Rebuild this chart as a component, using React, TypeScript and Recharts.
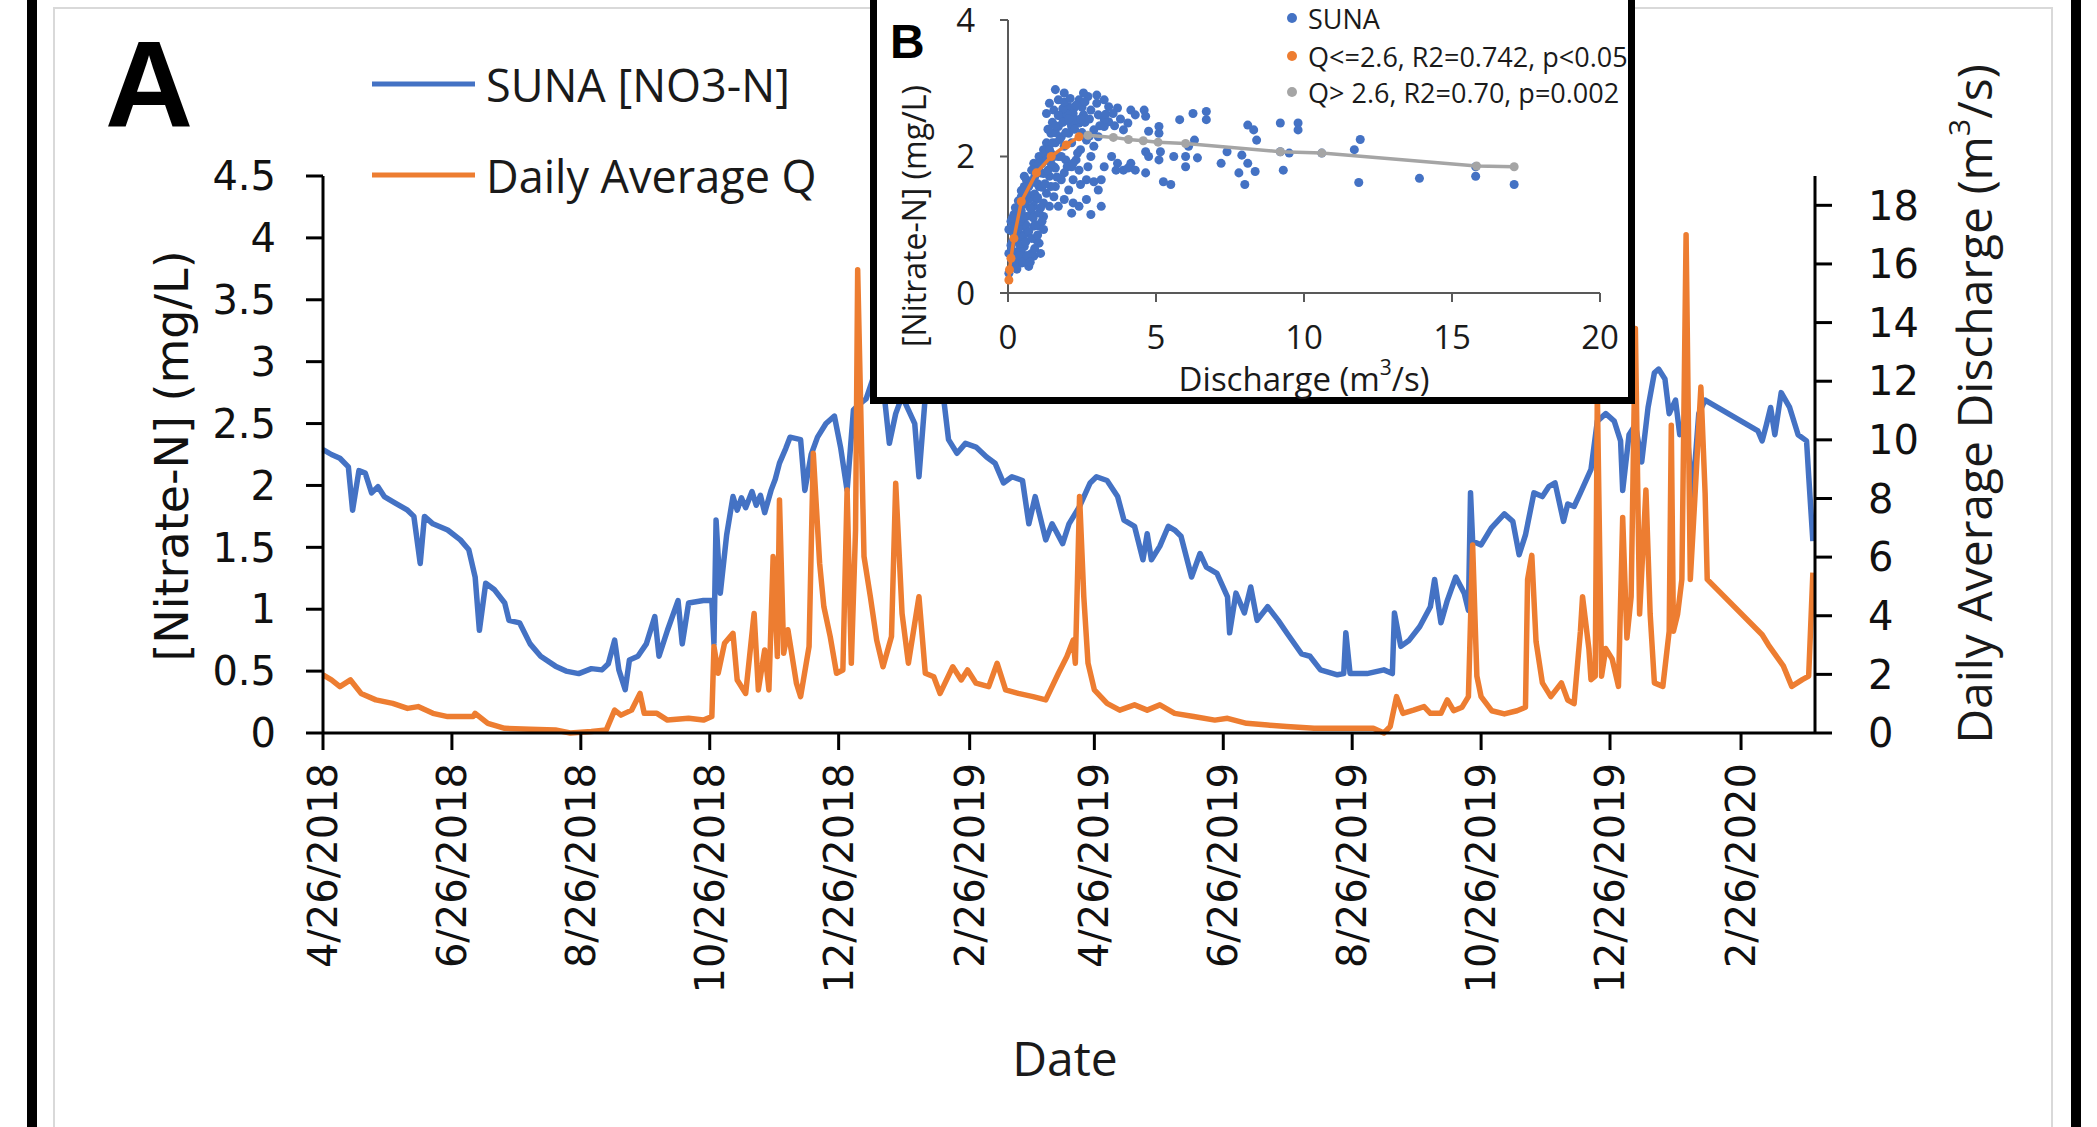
import { Line, LineChart, Scatter, ScatterChart, XAxis, YAxis } from "recharts";

// main panel A: [day since 4/26/2018, value]
const nitrate: [number, number][] = [
  [0, 2.29], [4, 2.25], [8, 2.22], [12, 2.15], [14, 1.8], [17, 2.12], [20, 2.1], [23, 1.94], [26, 1.99], [29, 1.91],
  [34, 1.86], [40, 1.8], [43, 1.75], [46, 1.37], [48, 1.75], [52, 1.69], [59, 1.64], [65, 1.56], [69, 1.48], [72, 1.26],
  [74, 0.83], [77, 1.21], [81, 1.16], [86, 1.05], [88, 0.91], [93, 0.89], [98, 0.72], [103, 0.62], [110, 0.54], [115, 0.5],
  [121, 0.48], [127, 0.52], [132, 0.51], [135, 0.56], [138, 0.75], [140, 0.51], [143, 0.35], [145, 0.59], [149, 0.62], [153, 0.72],
  [157, 0.94], [159, 0.62], [163, 0.83], [168, 1.07], [170, 0.72], [173, 1.05], [180, 1.07], [184, 1.07], [185, 0.72], [186, 1.72],
  [188, 1.13], [191, 1.6], [194, 1.91], [196, 1.8], [198, 1.9], [200, 1.82], [203, 1.95], [205, 1.84], [207, 1.92], [209, 1.78],
  [212, 1.96], [214, 2.05], [216, 2.18], [219, 2.3], [221, 2.39], [226, 2.37], [228, 1.96], [231, 2.25], [234, 2.39], [238, 2.5],
  [242, 2.56], [245, 2.3], [248, 1.96], [251, 2.61], [254, 2.66], [257, 2.7], [260, 2.85], [262, 2.9], [265, 2.82], [268, 2.34],
  [271, 2.58], [274, 2.72], [277, 2.61], [280, 2.5], [282, 2.07], [285, 2.72], [288, 2.7], [290, 2.78], [293, 2.8], [296, 2.37],
  [300, 2.26], [304, 2.34], [309, 2.31], [314, 2.23], [318, 2.18], [322, 2.02], [326, 2.07], [331, 2.04], [334, 1.69], [337, 1.91],
  [342, 1.56], [345, 1.69], [350, 1.53], [353, 1.69], [358, 1.83], [363, 2.02], [366, 2.07], [371, 2.04], [376, 1.91], [379, 1.72],
  [384, 1.67], [388, 1.4], [390, 1.61], [392, 1.4], [396, 1.51], [400, 1.67], [403, 1.64], [406, 1.59], [411, 1.26], [415, 1.45],
  [418, 1.34], [423, 1.29], [428, 1.1], [429, 0.81], [432, 1.13], [436, 0.97], [439, 1.18], [442, 0.91], [447, 1.02], [452, 0.91],
  [456, 0.81], [463, 0.64], [467, 0.62], [472, 0.51], [480, 0.47], [483, 0.48], [484, 0.81], [486, 0.48], [494, 0.48], [502, 0.51],
  [506, 0.48], [507, 0.97], [510, 0.7], [514, 0.75], [519, 0.86], [524, 1.02], [526, 1.24], [529, 0.89], [532, 1.07], [536, 1.26],
  [540, 1.13], [542, 0.99], [543, 1.94], [544, 1.55], [548, 1.52], [553, 1.66], [559, 1.77], [563, 1.71], [566, 1.44], [569, 1.6],
  [573, 1.94], [577, 1.91], [580, 1.99], [583, 2.02], [587, 1.71], [589, 1.85], [592, 1.83], [595, 1.94], [600, 2.13], [603, 2.52],
  [607, 2.58], [611, 2.52], [614, 2.36], [615, 1.96], [618, 2.41], [621, 2.49], [624, 2.19], [627, 2.63], [630, 2.91], [632, 2.94],
  [635, 2.86], [637, 2.58], [640, 2.69], [642, 2.41], [645, 2.52], [648, 1.91], [651, 2.58], [654, 2.69], [679, 2.44], [681, 2.36],
  [683, 2.49], [685, 2.63], [687, 2.41], [690, 2.75], [694, 2.63], [698, 2.41], [702, 2.36], [703, 2.08], [705, 1.55],
];

const dischargeQ: [number, number][] = [
  [0, 1.98], [4, 1.81], [8, 1.58], [13, 1.81], [18, 1.35], [25, 1.13], [33, 1.01], [40, 0.84], [45, 0.9], [52, 0.67],
  [59, 0.56], [71, 0.56], [72, 0.67], [78, 0.33], [86, 0.16], [98, 0.13], [110, 0.1], [117, 0], [127, 0.05], [134, 0.1],
  [138, 0.78], [141, 0.61], [146, 0.78], [150, 1.35], [152, 0.67], [158, 0.67], [163, 0.44], [173, 0.5], [180, 0.44], [184, 0.56],
  [185, 2.95], [187, 2.04], [190, 3.06], [194, 3.4], [196, 1.81], [200, 1.35], [204, 4.08], [206, 1.47], [209, 2.83], [211, 1.47],
  [213, 6.02], [215, 2.61], [216, 7.95], [218, 2.72], [220, 3.52], [224, 1.7], [226, 1.24], [230, 2.95], [232, 9.54], [235, 5.79],
  [237, 4.31], [240, 3.29], [243, 2.04], [246, 2.15], [248, 8.29], [250, 2.38], [252, 6.93], [253, 15.8], [256, 6.02], [259, 4.65],
  [262, 3.17], [265, 2.26], [269, 3.29], [271, 8.52], [274, 4.08], [277, 2.38], [282, 4.65], [285, 2.04], [289, 1.92], [292, 1.35],
  [298, 2.26], [302, 1.81], [305, 2.15], [309, 1.7], [315, 1.58], [319, 2.38], [323, 1.47], [329, 1.35], [336, 1.24], [342, 1.13],
  [348, 2.04], [352, 2.61], [355, 3.17], [356, 2.38], [358, 8.07], [360, 4.65], [362, 2.38], [365, 1.47], [371, 1.01], [377, 0.78],
  [384, 0.96], [390, 0.78], [396, 0.96], [403, 0.67], [412, 0.56], [422, 0.44], [428, 0.5], [437, 0.33], [447, 0.27], [456, 0.22],
  [469, 0.16], [484, 0.16], [497, 0.16], [502, 0], [505, 0.22], [508, 1.24], [511, 0.67], [516, 0.78], [521, 0.9], [524, 0.67],
  [529, 0.67], [532, 1.13], [535, 0.76], [539, 0.88], [542, 1.24], [544, 6.41], [546, 1.94], [548, 1.24], [553, 0.76], [559, 0.65],
  [565, 0.76], [569, 0.88], [570, 5.24], [572, 6.06], [574, 3.12], [577, 1.71], [581, 1.24], [586, 1.71], [589, 1.12], [592, 1.0],
  [595, 3.47], [596, 4.65], [599, 2.88], [600, 1.82], [602, 1.94], [603, 11.6], [605, 1.94], [607, 2.88], [610, 2.53], [613, 1.59],
  [615, 7.35], [617, 3.24], [619, 4.65], [621, 13.8], [623, 4.06], [626, 8.29], [628, 4.06], [630, 1.71], [634, 1.59], [637, 3.47],
  [638, 10.5], [639, 3.47], [641, 4.06], [643, 5.24], [645, 17.0], [647, 5.24], [649, 7.82], [652, 11.8], [654, 8.18], [655, 5.24],
  [681, 3.35], [684, 3.0], [691, 2.29], [695, 1.59], [700, 1.82], [703, 1.94], [705, 5.47],
];

const dateTickDays = [0, 61, 122, 183, 244, 306, 365, 426, 487, 548, 609, 671];
const dateTickLabels = [
  "4/26/2018", "6/26/2018", "8/26/2018", "10/26/2018", "12/26/2018", "2/26/2019",
  "4/26/2019", "6/26/2019", "8/26/2019", "10/26/2019", "12/26/2019", "2/26/2020",
];
const nitrateTicks = [0, 0.5, 1, 1.5, 2, 2.5, 3, 3.5, 4, 4.5];
const qTicks = [0, 2, 4, 6, 8, 10, 12, 14, 16, 18];

// inset panel B: [discharge, nitrate]
const sunaScatter: [number, number][] = [
  [17.1, 1.59], [15.8, 1.71], [15.8, 1.85], [13.9, 1.68], [11.85, 1.62], [11.9, 2.25], [11.7, 2.1], [10.6, 2.05], [9.8, 2.49], [9.8, 2.39],
  [9.2, 2.49], [9.3, 1.8], [9.5, 2.05], [9.2, 2.07], [8.1, 2.46], [8.3, 2.39], [8.4, 2.24], [8.0, 1.59], [8.1, 1.9], [7.9, 2.02],
  [7.8, 1.76], [8.35, 1.78], [7.4, 2.07], [7.2, 1.9], [6.7, 2.66], [6.7, 2.54], [6.25, 2.63], [5.8, 2.54], [6.3, 2.24], [6.1, 2.15],
  [6.0, 2.0], [6.4, 1.98], [6.0, 1.85], [5.6, 2.0], [5.5, 1.59], [5.25, 1.63], [5.1, 1.95], [5.15, 2.07], [4.65, 2.07], [4.65, 1.76],
  [4.75, 2.0], [5.1, 2.34], [5.1, 2.44], [4.75, 2.37], [4.6, 2.68], [4.65, 2.59], [4.15, 2.68], [4.3, 2.61], [4.05, 2.49], [3.9, 2.39],
  [3.7, 2.71], [3.55, 2.63], [3.4, 2.51], [3.25, 2.44], [3.05, 2.29], [3.7, 1.9], [4.15, 1.9], [3.9, 1.8], [4.05, 1.83], [4.3, 1.8],
  [3.65, 1.8], [3.5, 2.0], [3.25, 1.85], [3.15, 1.66], [3.15, 1.27], [2.8, 1.15], [3.05, 1.51], [2.9, 1.63], [2.9, 2.15], [2.8, 2.0],
  [2.7, 1.85], [2.65, 1.66], [3.0, 2.78], [2.7, 2.88], [2.55, 2.93], [2.4, 2.83], [3.0, 2.9], [3.25, 2.83], [3.4, 2.73], [2.2, 1.66],
  [2.4, 1.8], [2.2, 1.32], [2.15, 1.17], [2.45, 1.59], [1.9, 2.93], [1.7, 2.83], [1.6, 2.98], [1.4, 2.78], [1.3, 2.63], [1.55, 2.68],
  [2.05, 2.73], [2.2, 2.63], [1.95, 2.54], [1.7, 2.44], [1.45, 2.34], [1.3, 2.2], [1.2, 2.1], [1.05, 2.0], [0.87, 1.9], [0.8, 1.8],
  [0.62, 1.66], [0.55, 1.56], [2.05, 2.34], [2.4, 2.49], [1.9, 2.15], [1.7, 2.0], [1.55, 1.85], [1.4, 1.71], [1.6, 1.56], [1.9, 1.76],
  [2.05, 1.51], [1.3, 1.46], [1.1, 1.76], [1.05, 1.56], [0.95, 1.37], [0.8, 1.17], [1.2, 1.12], [1.2, 0.93], [1.05, 0.73], [0.87, 0.54],
  [0.7, 0.39], [0.45, 0.44], [0.37, 0.58], [0.29, 0.78], [0.2, 0.88], [0.12, 0.63], [0.12, 0.49], [0.03, 0.29], [0.62, 0.88], [0.62, 1.12],
  [0.37, 1.27], [0.29, 1.07], [0.7, 1.37], [0.87, 0.98], [0.95, 0.78], [0.55, 0.68], [0.8, 0.58], [0.2, 1.02], [0.03, 0.93], [0.45, 1.41],
  [0.55, 1.71], [0.7, 1.56], [0.87, 1.66], [1.05, 1.85], [1.2, 1.95], [1.45, 2.05], [1.6, 2.2], [1.8, 2.29], [2.15, 2.44], [2.3, 2.54],
  [2.55, 2.61], [2.8, 2.68], [3.05, 2.61], [3.25, 2.54], [2.9, 2.39], [2.65, 2.24], [2.45, 2.1], [2.3, 1.95], [2.15, 1.85], [1.95, 1.95],
  [2.65, 1.37], [2.4, 1.27], [1.9, 1.37], [1.7, 1.27], [1.55, 1.41], [1.2, 1.32], [1.05, 1.17], [1.4, 1.27], [1.6, 1.83], [1.8, 1.66],
  [1.45, 1.56], [0.87, 1.27], [0.37, 0.88], [0.55, 0.98], [1.05, 0.98], [1.1, 0.58], [0.55, 0.54], [0.2, 0.39], [0.03, 0.58], [1.75, 2.6],
  [2.0, 2.62], [2.1, 2.5], [2.25, 2.72], [1.85, 2.7], [2.5, 2.72], [2.6, 2.5], [2.75, 2.55], [3.1, 2.45], [3.3, 2.62], [3.6, 2.45],
  [3.8, 2.55], [1.5, 2.5], [1.6, 2.35], [1.35, 2.4], [1.25, 2.05], [1.15, 1.9], [1.0, 1.6], [0.9, 1.45], [0.75, 1.25], [0.6, 1.0],
  [0.5, 0.82], [0.4, 0.7], [0.3, 0.6], [0.25, 0.45], [0.15, 0.75], [0.1, 1.05], [0.45, 1.2], [0.35, 0.95],
  [0.1, 0.7], [0.15, 0.9], [0.2, 1.15], [0.25, 0.95], [0.3, 1.2], [0.35, 0.5], [0.4, 1.05], [0.45, 0.6], [0.5, 1.1], [0.55, 1.3],
  [0.6, 0.75], [0.65, 1.45], [0.7, 0.9], [0.75, 1.6], [0.8, 0.8], [0.85, 1.1], [0.9, 1.7], [0.95, 1.0], [1.0, 1.4], [1.05, 1.9],
  [1.1, 1.25], [1.15, 1.55], [1.2, 1.75], [1.25, 1.6], [1.3, 1.95], [1.35, 1.8], [1.4, 2.1], [1.45, 1.9], [1.5, 2.2], [1.55, 2.0],
  [1.6, 2.45], [1.65, 1.7], [1.7, 2.6], [1.75, 2.25], [1.8, 2.0], [1.85, 2.5], [1.9, 2.8], [1.95, 2.35], [2.0, 1.85], [2.05, 2.55],
  [2.1, 2.85], [2.15, 2.2], [2.2, 1.9], [2.25, 2.4], [2.3, 2.75], [2.35, 2.05], [2.45, 2.55], [2.5, 2.35], [2.6, 2.8], [2.75, 2.3],
  [0.3, 0.35], [0.4, 0.55], [0.5, 0.45], [0.65, 0.55], [0.75, 0.45], [0.9, 0.65], [1.0, 0.85], [1.15, 1.05], [0.6, 1.55], [0.45, 1.5],
  [0.35, 1.35], [0.25, 1.25], [0.15, 1.1],
];
const fitLow: [number, number][] = [
  [0.03, 0.19], [0.05, 0.34], [0.1, 0.51], [0.2, 0.8], [0.45, 1.34], [0.96, 1.76], [1.46, 2.0], [1.97, 2.17], [2.4, 2.29],
];
const fitHigh: [number, number][] = [
  [2.7, 2.31], [3.56, 2.28], [4.07, 2.25], [4.57, 2.23], [5.07, 2.21], [6.0, 2.19], [9.2, 2.07], [10.6, 2.05], [15.83, 1.86], [17.1, 1.85],
];

const BLUE = "#4472C4";
const ORANGE = "#ED7D31";
const GRAY = "#A5A5A5";
const INK = "#111";

const days = Array.from(new Set([...nitrate.map((p) => p[0]), ...dischargeQ.map((p) => p[0])])).sort((a, b) => a - b);
const nMap = new Map(nitrate);
const qMap = new Map(dischargeQ);
const table = days.map((d) => ({ day: d, nitrate: nMap.get(d) ?? null, q: qMap.get(d) ?? null }));

const toXY = (pts: [number, number][]) => pts.map(([x, y]) => ({ x, y }));

const tickFont = { fontSize: 40, fontFamily: "DejaVu Sans", fill: INK };
const axisStroke = { stroke: "#000", strokeWidth: 3 };

const DateTick = ({ x, y, payload }: any) => (
  <text
    x={x}
    y={y}
    transform={`rotate(-90 ${x} ${y})`}
    textAnchor="end"
    dominantBaseline="central"
    {...tickFont}
  >
    {dateTickLabels[dateTickDays.indexOf(payload.value)]}
  </text>
);

export default function App() {
  const insetFont = { fontFamily: "Open Sans", fill: "#1a1a1a" };
  return (
    <div style={{ position: "absolute", left: 0, top: 0, width: 2097, height: 1127, background: "#fff", overflow: "hidden" }}>
      {/* frame */}
      <div style={{ position: "absolute", left: 27, top: -20, width: 2054, height: 1167, border: "10px solid #000", boxSizing: "border-box" }} />
      <div style={{ position: "absolute", left: 53, top: 7, width: 2000, height: 1140, border: "2px solid #d9d9d9", boxSizing: "border-box" }} />

      <div style={{ position: "absolute", left: 0, top: 0 }}>
        <LineChart width={2097} height={1127} data={table} margin={{ top: 176, right: 182, bottom: 294, left: 223 }}>
          <XAxis
            dataKey="day"
            type="number"
            domain={[0, 706]}
            ticks={dateTickDays}
            interval={0}
            height={100}
            tickSize={17}
            tickMargin={13}
            axisLine={axisStroke}
            tickLine={axisStroke}
            tick={<DateTick />}
          />
          <YAxis
            yAxisId="n"
            domain={[0, 4.5]}
            ticks={nitrateTicks}
            interval={0}
            width={100}
            tickSize={17}
            tickMargin={30}
            axisLine={axisStroke}
            tickLine={axisStroke}
            tick={tickFont}
          />
          <YAxis
            yAxisId="q"
            orientation="right"
            domain={[0, 19]}
            ticks={qTicks}
            interval={0}
            width={100}
            tickSize={17}
            tickMargin={36}
            axisLine={axisStroke}
            tickLine={axisStroke}
            tick={tickFont}
          />
          <Line yAxisId="n" dataKey="nitrate" connectNulls stroke={BLUE} strokeWidth={5.5} strokeLinejoin="round" dot={false} isAnimationActive={false} />
          <Line yAxisId="q" dataKey="q" connectNulls stroke={ORANGE} strokeWidth={5.5} strokeLinejoin="round" dot={false} isAnimationActive={false} />
        </LineChart>
      </div>

      {/* inset B */}
      <div style={{ position: "absolute", left: 870, top: -8, width: 765, height: 412, border: "7px solid #000", boxSizing: "border-box", background: "#fff" }} />
      <div style={{ position: "absolute", left: 873, top: -30 }}>
        <ScatterChart width={759} height={430} margin={{ top: 50, right: 32, bottom: 57, left: 75 }} style={{ overflow: "visible" }}>
          <XAxis
            dataKey="x"
            type="number"
            domain={[0, 20]}
            ticks={[0, 5, 10, 15, 20]}
            interval={0}
            height={50}
            tickSize={9}
            tickMargin={24}
            axisLine={{ stroke: "#595959", strokeWidth: 2 }}
            tickLine={{ stroke: "#595959", strokeWidth: 2 }}
            tick={{ fontSize: 33, ...insetFont }}
          />
          <YAxis
            dataKey="y"
            type="number"
            domain={[0, 4]}
            ticks={[0, 2, 4]}
            interval={0}
            width={60}
            tickSize={8}
            tickMargin={25}
            axisLine={{ stroke: "#595959", strokeWidth: 2 }}
            tickLine={{ stroke: "#595959", strokeWidth: 2 }}
            tick={{ fontSize: 33, ...insetFont }}
          />
          <Scatter data={toXY(sunaScatter)} fill={BLUE} isAnimationActive={false} />
          <Scatter data={toXY(fitLow)} fill={ORANGE} line={{ stroke: ORANGE, strokeWidth: 3.5 }} lineType="joint" isAnimationActive={false} />
          <Scatter data={toXY(fitHigh)} fill={GRAY} line={{ stroke: GRAY, strokeWidth: 3.5 }} lineType="joint" isAnimationActive={false} />
        </ScatterChart>
      </div>

      {/* text overlay */}
      <svg width={2097} height={1127} style={{ position: "absolute", left: 0, top: 0, pointerEvents: "none" }}>
        <text x={105} y={127} fontSize={122} fontWeight="bold" fontFamily="Liberation Sans" fill="#000">A</text>
        <line x1={372} x2={475} y1={84} y2={84} stroke={BLUE} strokeWidth={5} />
        <text x={486} y={84} dominantBaseline="central" fontSize={45} fontFamily="Open Sans" fill="#1a1a1a">SUNA [NO3-N]</text>
        <line x1={372} x2={475} y1={175} y2={175} stroke={ORANGE} strokeWidth={5} />
        <text x={486} y={175} dominantBaseline="central" fontSize={45} fontFamily="Open Sans" fill="#1a1a1a">Daily Average Q</text>
        <text transform="translate(172 456) rotate(-90)" textAnchor="middle" dominantBaseline="central" fontSize={46} fontFamily="DejaVu Sans" fill={INK}>
          [Nitrate-N] (mg/L)
        </text>
        <text transform="translate(1973 404) rotate(-90)" textAnchor="middle" dominantBaseline="central" fontSize={48} fontFamily="Open Sans" fill="#1a1a1a">
          Daily Average Discharge (m<tspan dy={-15} fontSize={30}>3</tspan><tspan dy={15}>/s)</tspan>
        </text>
        <text x={1065} y={1057} textAnchor="middle" dominantBaseline="central" fontSize={48} fontFamily="Open Sans" fill="#1a1a1a">Date</text>

        <text x={890} y={58} fontSize={48} fontWeight="bold" fontFamily="Liberation Sans" fill="#000">B</text>
        <text transform="translate(913 216) rotate(-90)" textAnchor="middle" dominantBaseline="central" fontSize={32} fontFamily="Open Sans" fill="#1a1a1a">
          [Nitrate-N] (mg/L)
        </text>
        <text x={1304} y={378} textAnchor="middle" dominantBaseline="central" fontSize={33} fontFamily="Open Sans" fill="#1a1a1a">
          Discharge (m<tspan dy={-11} fontSize={21}>3</tspan><tspan dy={11}>/s)</tspan>
        </text>
        <circle cx={1292} cy={18} r={5} fill={BLUE} />
        <text x={1308} y={18} dominantBaseline="central" fontSize={27} fontFamily="Open Sans" fill="#1a1a1a">SUNA</text>
        <circle cx={1292} cy={56} r={5} fill={ORANGE} />
        <text x={1308} y={56} dominantBaseline="central" fontSize={27} fontFamily="Open Sans" fill="#1a1a1a">Q&lt;=2.6, R2=0.742, p&lt;0.05</text>
        <circle cx={1292} cy={92} r={5} fill={GRAY} />
        <text x={1308} y={92} dominantBaseline="central" fontSize={27} fontFamily="Open Sans" fill="#1a1a1a">Q&gt; 2.6, R2=0.70, p=0.002</text>
      </svg>
    </div>
  );
}
